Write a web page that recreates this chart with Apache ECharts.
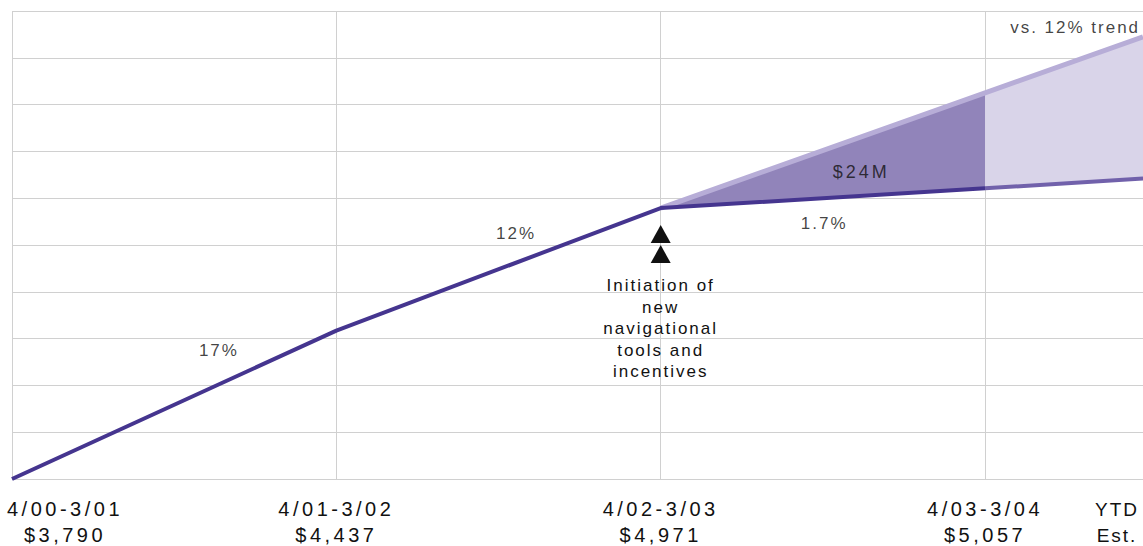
<!DOCTYPE html>
<html>
<head>
<meta charset="utf-8">
<script src="https://cdn.jsdelivr.net/npm/echarts@6/dist/echarts.min.js"></script>
<style>
  html, body { margin: 0; padding: 0; background: #ffffff; }
  #chart { width: 1143px; height: 546px; }
  /* tracked lettering, keyed on the font size of each text group */
  #chart text[style*="20px"] { letter-spacing: 3.5px; }
  #chart text[style*="19px"] { letter-spacing: 2px; }
  #chart text[style*="17px"] { letter-spacing: 2px; }
  #chart text[style*="18px"] { letter-spacing: 3px; }
</style>
</head>
<body>
<div id="chart"></div>
<script>
// Fiscal periods and revenue per period
const periods = ['4/00-3/01', '4/01-3/02', '4/02-3/03', '4/03-3/04'];
const revenue = [3790, 4437, 4971, 5057];

// Year-to-date estimate sits half a period after the last full one
const ytdLabel = ['YTD', 'Est.'];
const ytdPos = 3.487;

// Projection from 4/02-3/03 onward: actual path vs. the 12% trend path
const projX = [2, 3, ytdPos];
const projActual = [4971, 5057, 5100];
const projTrend = [4971, 5473, 5717];

// Annotation texts
const growthLabels = ['17%', '12%', '1.7%'];
const gapLabel = '$24M';
const trendLabel = 'vs. 12% trend';
const eventNote = ['Initiation of', 'new', 'navigational', 'tools and', 'incentives'];

const FONT = '"Liberation Sans", Arial, sans-serif';
const INK = '#111111';
const GRID = '#d0d0d0';

const money = v => '$' + v.toLocaleString('en-US');

// where each annotation sits, in chart coordinates
const notePlacement = [
  { text: growthLabels[0], at: [0.638, 4352] },
  { text: growthLabels[1], at: [1.554, 4858] },
  { text: growthLabels[2], at: [2.504, 4902] },
  { text: gapLabel, at: [2.618, 5128], size: 18 },
  { text: trendLabel, at: [3.478, 5760], align: 'right' }
];

const fills = ['#9184ba', '#d9d4e9'];
const gapRows = [];
for (let i = 0; i < projX.length - 1; i++) {
  gapRows.push([projX[i], projX[i + 1], projActual[i], projActual[i + 1], projTrend[i], projTrend[i + 1]]);
}

const chart = echarts.init(document.getElementById('chart'), null, { renderer: 'svg' });

const baseX = {
  type: 'value', position: 'bottom', offset: 0,
  min: 0, max: ytdPos, interval: 1,
  axisLine: { show: false }, axisTick: { show: false }
};
const labelStyle = {
  fontFamily: FONT, fontSize: 20, color: INK, lineHeight: 26, margin: 17
};

chart.setOption({
  animation: false,
  backgroundColor: '#ffffff',
  grid: { left: 12, right: 0, top: 11, bottom: 67, containLabel: false, outerBoundsMode: 'none' },
  xAxis: [
    Object.assign({}, baseX, {
      splitLine: { show: true, lineStyle: { color: GRID, width: 1 } },
      axisLabel: Object.assign({}, labelStyle, {
        customValues: [1, 2, 3],
        formatter: v => periods[Math.round(v)] + '\n' + money(revenue[Math.round(v)])
      })
    }),
    Object.assign({}, baseX, {
      splitLine: { show: false },
      axisLabel: Object.assign({}, labelStyle, {
        customValues: [0],
        padding: [0, 0, 0, 106],
        formatter: () => periods[0] + '\n' + money(revenue[0])
      })
    }),
    Object.assign({}, baseX, {
      splitLine: { show: false },
      axisLabel: Object.assign({}, labelStyle, {
        customValues: [ytdPos],
        fontSize: 19,
        padding: [0, 52, 0, 0],
        formatter: () => ytdLabel.join('\n')
      })
    })
  ],
  yAxis: [
    { type: 'value', min: 3790, max: 5830, show: false },
    {
      type: 'value', min: 0, max: 10, interval: 1,
      axisLine: { show: false }, axisTick: { show: false }, axisLabel: { show: false },
      splitLine: { show: true, lineStyle: { color: GRID, width: 1 } }
    }
  ],
  series: [
    {
      name: 'gap',
      type: 'custom',
      xAxisIndex: 0, yAxisIndex: 0,
      z: 2,
      encode: { x: [0, 1], y: [2, 3, 4, 5] },
      data: gapRows,
      renderItem: (params, api) => ({
        type: 'polygon',
        shape: {
          points: [
            api.coord([api.value(0), api.value(2)]),
            api.coord([api.value(1), api.value(3)]),
            api.coord([api.value(1), api.value(5)]),
            api.coord([api.value(0), api.value(4)])
          ]
        },
        style: { fill: fills[params.dataIndex] }
      })
    },
    {
      name: 'trend',
      type: 'line', z: 3,
      symbol: 'none',
      data: projX.map((x, i) => [x, projTrend[i]]),
      lineStyle: { color: '#b7add7', width: 5 }
    },
    {
      name: 'ytd',
      type: 'line', z: 4,
      symbol: 'none',
      data: projX.slice(1).map((x, i) => [x, projActual[i + 1]]),
      lineStyle: { color: '#7161ab', width: 4 }
    },
    {
      name: 'revenue',
      type: 'line', z: 5,
      symbol: 'none',
      data: revenue.map((v, i) => [i, v]),
      lineStyle: { color: '#45358f', width: 4 }
    },
    {
      name: 'event',
      type: 'scatter', z: 6,
      silent: true,
      symbol: 'triangle',
      symbolSize: [20, 18],
      itemStyle: { color: INK, opacity: 1 },
      data: [
        { value: [2, revenue[2]], symbolOffset: [0, 26] },
        {
          value: [2, revenue[2]], symbolOffset: [0, 46],
          label: {
            show: true, position: 'bottom', distance: 12,
            formatter: eventNote.join('\n'),
            fontFamily: FONT, fontSize: 17, lineHeight: 21.5, color: INK, align: 'center'
          }
        }
      ]
    },
    {
      name: 'notes',
      type: 'scatter', z: 7,
      silent: true,
      symbolSize: 0,
      data: notePlacement.map(n => ({
        value: n.at,
        label: {
          show: true, position: 'inside',
          formatter: n.text,
          align: n.align || 'center',
          fontFamily: FONT, fontSize: n.size || 17, color: INK
        }
      }))
    }
  ]
});
</script>
</body>
</html>
